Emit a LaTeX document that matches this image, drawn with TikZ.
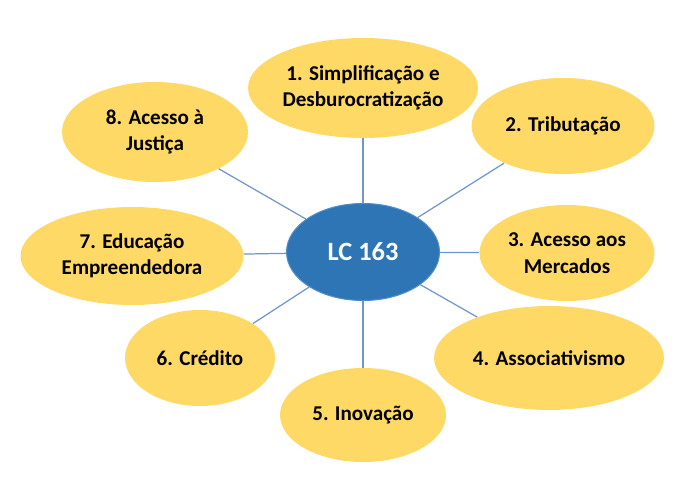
\documentclass[tikz,border=0pt]{standalone}
\usepackage{fontspec}
\setmainfont{Carlito}
\usetikzlibrary{shapes.geometric}
\definecolor{hubblue}{RGB}{46,117,182}
\definecolor{hubedge}{RGB}{80,140,200}
\definecolor{topicgold}{RGB}{255,217,102}
\definecolor{linkblue}{RGB}{110,150,200}

\begin{document}
\begin{tikzpicture}[
    x=0.02cm, y=-0.02cm,
    hub/.style={ellipse, fill=hubblue, draw=hubedge, line width=0.6pt, inner sep=0pt,
        text=white, font=\fontsize{15}{18}\selectfont\bfseries},
    topic/.style={ellipse, fill=topicgold, inner sep=0pt, align=center,
        font=\fontsize{12}{15}\selectfont\bfseries},
    link/.style={draw=linkblue, line width=0.7pt},
]
    \useasboundingbox (0,0) rectangle (688,489);

    % Central hub
    \node[hub, minimum width=3.06cm, minimum height=1.94cm] (lc) at (363,252) {LC 163};

    % Topics, clockwise from the top
    \node[topic, minimum width=4.6cm, minimum height=2.0cm] (simp) at (363,88) {1. Simplificação e\\Desburocratização};
    \node[topic, minimum width=3.66cm, minimum height=1.92cm] (trib) at (563,126) {2. Tributação};
    \node[topic, minimum width=3.5cm, minimum height=1.92cm] (merc) at (567,253) {3. Acesso aos\\Mercados};
    \node[topic, minimum width=4.6cm, minimum height=2.08cm] (asso) at (549,358) {4. Associativismo};
    \node[topic, minimum width=3.32cm, minimum height=1.88cm] (inov) at (363,415) {5. Inovação};
    \node[topic, minimum width=3.0cm, minimum height=1.92cm] (cred) at (200,358) {6. Crédito};
    \node[topic, minimum width=4.46cm, minimum height=1.96cm] (educ) at (132,256) {7. Educação\\Empreendedora};
    \node[topic, minimum width=3.72cm, minimum height=2.0cm] (just) at (155,132) {8. Acesso à\\Justiça};

    % Spokes
    \foreach \t in {simp, trib, merc, asso, inov, cred, educ, just}
        \draw[link] (lc) -- (\t);

\end{tikzpicture}
\end{document}
